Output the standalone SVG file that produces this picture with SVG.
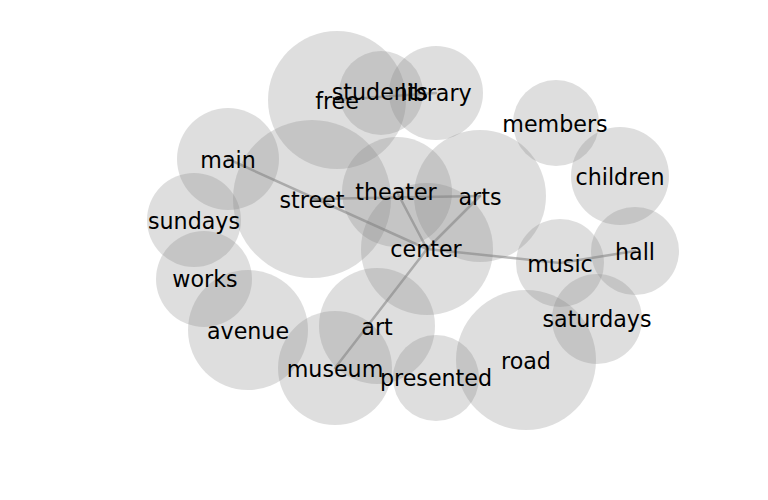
<svg xmlns="http://www.w3.org/2000/svg" width="768" height="500" viewBox="0 0 768 500">
<style>
.n circle{fill:#808080;fill-opacity:0.26;stroke:none}
.n text{font-family:"DejaVu Sans",sans-serif;font-size:22.2px;fill:#000;text-anchor:middle}
#edges line{stroke:#808080;stroke-opacity:0.55;stroke-width:2.5;stroke-linecap:round}
</style>
<rect width="768" height="500" fill="#fff"/>
<g id="circles" class="n">
<circle cx="337" cy="100" r="69"/>
<circle cx="381" cy="93" r="42"/>
<circle cx="436" cy="93" r="47"/>
<circle cx="556" cy="123" r="43"/>
<circle cx="620" cy="176" r="49"/>
<circle cx="228" cy="159" r="51"/>
<circle cx="312" cy="199" r="79"/>
<circle cx="397" cy="192" r="55"/>
<circle cx="480" cy="196" r="66"/>
<circle cx="427" cy="249" r="66"/>
<circle cx="194" cy="220" r="47"/>
<circle cx="204" cy="279" r="48"/>
<circle cx="248" cy="330" r="60"/>
<circle cx="377" cy="326" r="58"/>
<circle cx="335" cy="368" r="57"/>
<circle cx="436" cy="378" r="43"/>
<circle cx="526" cy="360" r="70"/>
<circle cx="560" cy="263" r="44"/>
<circle cx="635" cy="251" r="44"/>
<circle cx="597" cy="319" r="45"/>
</g>
<g id="edges">
<line x1="337" y1="100" x2="436" y2="93"/>
<line x1="228" y1="159" x2="427" y2="249"/>
<line x1="312" y1="199" x2="480" y2="196"/>
<line x1="397" y1="192" x2="427" y2="249"/>
<line x1="480" y1="196" x2="427" y2="249"/>
<line x1="427" y1="249" x2="560" y2="263"/>
<line x1="560" y1="263" x2="635" y2="251"/>
<line x1="427" y1="249" x2="335" y2="368"/>
</g>
<g class="n">
<g id="free"><text x="337" y="108.5">free</text></g>
<g id="students"><text x="380" y="99.5">students</text></g>
<g id="library"><text x="436" y="100.5">library</text></g>
<g id="members"><text x="555" y="131.5">members</text></g>
<g id="children"><text x="620" y="184.5">children</text></g>
<g id="main"><text x="228" y="167.5">main</text></g>
<g id="street"><text x="312" y="207.5">street</text></g>
<g id="theater"><text x="396" y="199.5">theater</text></g>
<g id="arts"><text x="480" y="204.5">arts</text></g>
<g id="center"><text x="426" y="256.5">center</text></g>
<g id="sundays"><text x="194" y="228.5">sundays</text></g>
<g id="works"><text x="205" y="286.5">works</text></g>
<g id="avenue"><text x="248" y="338.5">avenue</text></g>
<g id="art"><text x="377" y="334.5">art</text></g>
<g id="museum"><text x="335" y="376.5">museum</text></g>
<g id="presented"><text x="436" y="385.5">presented</text></g>
<g id="road"><text x="526" y="368.5">road</text></g>
<g id="music"><text x="560" y="271.5">music</text></g>
<g id="hall"><text x="635" y="259.5">hall</text></g>
<g id="saturdays"><text x="597" y="326.5">saturdays</text></g>
</g>
</svg>
